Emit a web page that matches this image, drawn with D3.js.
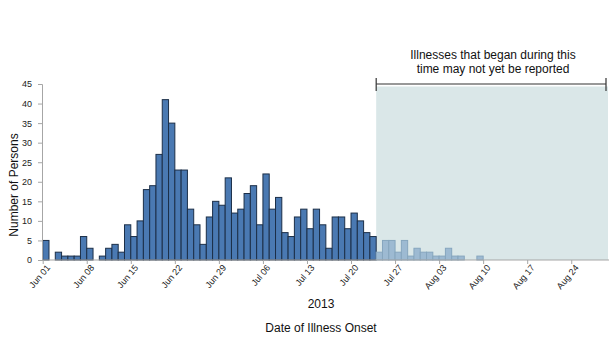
<!DOCTYPE html>
<html>
<head>
<meta charset="utf-8">
<script src="https://cdn.jsdelivr.net/npm/d3@7"></script>
<style>
  body { margin: 0; background: #fff; }
  svg { display: block; font-family: "Liberation Sans", Arial, sans-serif; }
</style>
</head>
<body>
<svg id="chart" width="616" height="342"></svg>
<script>
// Daily case counts by date of illness onset, Jun 01 – Aug 29, 2013
const startDate = "2013-06-01";
const dayCount = 90;
const cases = [
  5, 0, 2, 1, 1, 1, 6, 3, 0, 1,
  3, 4, 2, 9, 6, 10, 18, 19, 27, 41,
  35, 23, 23, 13, 9, 4, 11, 15, 14, 21,
  12, 13, 17, 19, 9, 22, 13, 16, 7, 6,
  11, 13, 8, 13, 9, 3, 11, 11, 8, 12,
  10, 7, 6, 2, 5, 5, 2, 5, 1, 3,
  2, 2, 1, 1, 3, 1, 1, 0, 0, 1,
  0, 0, 0, 0, 0, 0, 0, 0, 0, 0,
  0, 0, 0, 0, 0, 0, 0, 0, 0, 0
];
// First onset date whose cases may not all be reported yet
const reportingLagStart = "2013-07-24";
const yTicks = [0, 5, 10, 15, 20, 25, 30, 35, 40, 45];
const xTickLabels = ["Jun 01", "Jun 08", "Jun 15", "Jun 22", "Jun 29", "Jul 06", "Jul 13",
                     "Jul 20", "Jul 27", "Aug 03", "Aug 10", "Aug 17", "Aug 24"];
const annotationLines = ["Illnesses that began during this", "time may not yet be reported"];
const yearLabel = "2013";
const xTitle = "Date of Illness Onset";
const yTitle = "Number of Persons";

const parse = d3.timeParse("%Y-%m-%d");
const day0 = parse(startDate);
const lagDay = parse(reportingLagStart);
const dates = d3.range(dayCount).map(i => d3.timeDay.offset(day0, i));
const data = dates.map((d, i) => ({ date: d, value: cases[i], late: d >= lagDay }));

const svg = d3.select("#chart");
const plotLeft = 42, plotRight = 609, plotTop = 84, plotBottom = 260;

const x = d3.scaleTime()
  .domain([day0, d3.timeDay.offset(day0, dayCount)])
  .range([plotLeft + 0.7, plotRight]);
const y = d3.scaleLinear().domain([0, 45]).range([plotBottom, plotTop]);

// Shaded reporting-lag window
const lagX = x(lagDay);
svg.append("rect")
  .attr("x", lagX).attr("y", plotTop + 2.5)
  .attr("width", 608 - lagX).attr("height", plotBottom - plotTop - 2.5)
  .attr("fill", "#dae7e8");

// Bracket over the window
const bracket = svg.append("g").attr("stroke", "#333").attr("stroke-width", 1.2);
bracket.append("line").attr("x1", lagX).attr("x2", 606).attr("y1", plotTop).attr("y2", plotTop);
bracket.append("line").attr("x1", lagX).attr("x2", lagX).attr("y1", plotTop - 6).attr("y2", plotTop + 7);
bracket.append("line").attr("x1", 606).attr("x2", 606).attr("y1", plotTop - 6).attr("y2", plotTop + 7);

svg.append("text")
  .attr("x", 493).attr("y", 59)
  .attr("text-anchor", "middle")
  .attr("font-size", 12).attr("fill", "#111")
  .selectAll("tspan").data(annotationLines).join("tspan")
  .attr("x", 493).attr("dy", (d, i) => i ? 14 : 0)
  .text(d => d);

// Bars
const bw = x(dates[1]) - x(dates[0]);
svg.append("g").selectAll("rect")
  .data(data.filter(d => d.value > 0 || d.late))
  .join("rect")
  .attr("x", d => x(d.date))
  .attr("y", d => y(d.value))
  .attr("width", bw)
  .attr("height", d => plotBottom - y(d.value))
  .attr("fill", d => d.late ? "#9dbad2" : "#4a79b2")
  .attr("stroke", d => d.late ? "#86a6be" : "#1c2f48")
  .attr("stroke-width", 1);

// Y axis
const yAxis = svg.append("g")
  .attr("transform", `translate(${plotLeft},0)`)
  .call(d3.axisLeft(y).tickValues(yTicks).tickSize(4).tickPadding(6));
yAxis.select(".domain").attr("stroke", "#a6a6a6");
yAxis.selectAll(".tick line").attr("stroke", "#a6a6a6");
yAxis.selectAll("text").attr("font-size", 9).attr("fill", "#222")
  .attr("font-family", "Liberation Sans, Arial, sans-serif");

// X axis
const tickDates = xTickLabels.map((_, i) => d3.timeDay.offset(day0, i * 7));
const labelOf = new Map(tickDates.map((d, i) => [+d, xTickLabels[i]]));
const xAxis = svg.append("g")
  .attr("transform", `translate(0,${plotBottom})`)
  .call(d3.axisBottom(x).tickValues(tickDates).tickFormat(d => labelOf.get(+d))
    .tickSize(4).tickSizeOuter(0));
xAxis.select(".domain").attr("stroke", "#a6a6a6").attr("d", `M${plotLeft},0H${plotRight}`);
xAxis.selectAll(".tick line").attr("stroke", "#a6a6a6");
xAxis.selectAll("text")
  .attr("font-size", 9).attr("fill", "#222")
  .attr("font-family", "Liberation Sans, Arial, sans-serif")
  .attr("text-anchor", "end")
  .attr("transform", "translate(5,6) rotate(-50)")
  .attr("x", 0).attr("y", 0).attr("dy", "0.35em");

// Titles
svg.append("text")
  .attr("x", 321).attr("y", 308).attr("text-anchor", "middle")
  .attr("font-size", 12).attr("fill", "#111").text(yearLabel);
svg.append("text")
  .attr("x", 321).attr("y", 332).attr("text-anchor", "middle")
  .attr("font-size", 12).attr("fill", "#111").text(xTitle);
svg.append("text")
  .attr("transform", "translate(18,185) rotate(-90)")
  .attr("text-anchor", "middle")
  .attr("font-size", 12).attr("fill", "#111").text(yTitle);
</script>
</body>
</html>
